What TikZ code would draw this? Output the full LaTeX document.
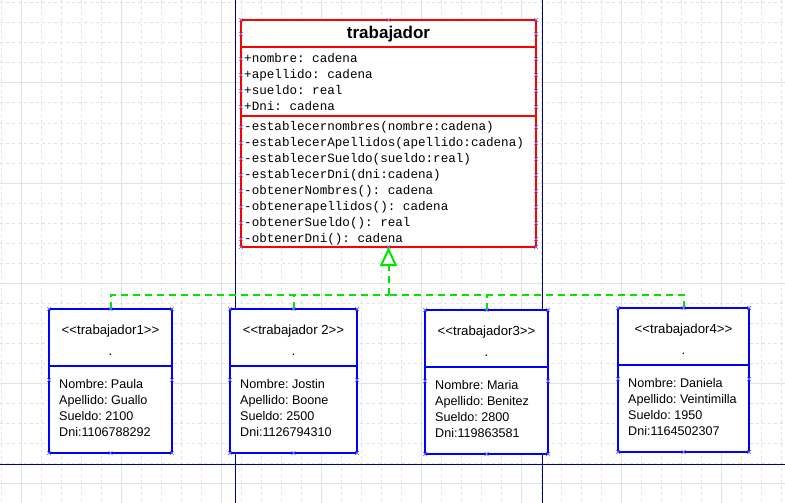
\documentclass[tikz,border=0pt]{standalone}
\usepackage{fontspec}
\setmainfont{Liberation Sans}
\newfontfamily\codefont{Liberation Mono}
\usetikzlibrary{arrows.meta}
\definecolor{gridgray}{RGB}{222,227,227}
\definecolor{pageblue}{RGB}{0,0,140}
\definecolor{umlgreen}{RGB}{0,230,0}
\definecolor{handleblue}{RGB}{115,115,235}
\frenchspacing

\begin{document}
\begin{tikzpicture}[x=1pt,y=-1pt,
  classbox/.style={draw=red,line width=2pt,fill=white,inner sep=0pt,outer sep=0pt},
  objbox/.style={draw=blue,line width=2pt,fill=white,inner sep=0pt,outer sep=0pt,minimum height=144pt},
  member/.style={anchor=west,inner sep=0pt,text height=9pt,text depth=2.5pt,font=\codefont\fontsize{12.6}{14}\selectfont},
  field/.style={anchor=west,inner sep=0pt,text height=9pt,text depth=2.5pt,font=\fontsize{12.6}{14}\selectfont},
  stereo/.style={inner sep=0pt,font=\fontsize{13.2}{15}\selectfont},
  minorgrid/.style={gridgray,line width=1pt,dash pattern=on 3pt off 3pt},
  majorgrid/.style={gridgray,line width=1pt},
  pageline/.style={pageblue,line width=1pt},
  inherit/.style={umlgreen,line width=2pt,dash pattern=on 7pt off 5pt},
  handle/.style={handleblue,line width=0.7pt}]

\fill[white] (0,0) rectangle (785,503);
\useasboundingbox (0,0) rectangle (785,503);

% grid
\foreach \gx in {1,21,...,781} \draw[minorgrid] (\gx,0) -- (\gx,503);
\foreach \gy in {3,23,...,503} \draw[minorgrid] (0,\gy) -- (785,\gy);
\foreach \gx in {21,121,...,721} \draw[majorgrid] (\gx,0) -- (\gx,503);
\foreach \gy in {83,183,...,483} \draw[majorgrid] (0,\gy) -- (785,\gy);

% page borders
\draw[pageline] (235,0) -- (235,503);
\draw[pageline] (542,0) -- (542,503);
\draw[pageline] (0,464) -- (785,464);

% class trabajador
\node[classbox,minimum width=295pt,minimum height=227pt] (trab) at (388.5,133.5) {};
\draw[red,line width=2pt] ([yshift=-27.5pt]trab.north west) -- ([yshift=-27.5pt]trab.north east);
\draw[red,line width=2pt] ([yshift=-96pt]trab.north west) -- ([yshift=-96pt]trab.north east);
\node[inner sep=0pt,font=\bfseries\fontsize{17}{20}\selectfont] (title) at (388.5,34) {trabajador};

\node[member] (a1) at (244,59) {+nombre: cadena};
\node[member] (a2) at (244,75) {+apellido: cadena};
\node[member] (a3) at (244,91) {+sueldo: real};
\node[member] (a4) at (244,107) {+Dni: cadena};

\node[member] (m1) at (244,127) {-establecernombres(nombre:cadena)};
\node[member] (m2) at (244,143) {-establecerApellidos(apellido:cadena)};
\node[member] (m3) at (244,159) {-establecerSueldo(sueldo:real)};
\node[member] (m4) at (244,175) {-establecerDni(dni:cadena)};
\node[member] (m5) at (244,191) {-obtenerNombres(): cadena};
\node[member] (m6) at (244,207) {-obtenerapellidos(): cadena};
\node[member] (m7) at (244,223) {-obtenerSueldo(): real};
\node[member] (m8) at (244,239) {-obtenerDni(): cadena};

% objects
\node[objbox,minimum width=123pt] (w1) at (110.5,381) {};
\node[objbox,minimum width=127pt] (w2) at (293.5,381) {};
\node[objbox,minimum width=123pt] (w3) at (486.5,382) {};
\node[objbox,minimum width=131pt] (w4) at (683.5,380) {};
\foreach \w in {w1,w2,w3,w4}
  \draw[blue,line width=2pt] ([yshift=-57pt]\w.north west) -- ([yshift=-57pt]\w.north east);

\node[stereo] (s1) at ([yshift=-22pt]w1.north) {<{}<trabajador1>{}>};
\node[stereo] (d1) at ([yshift=-46pt]w1.north) {.};
\node[field] (n1) at ([xshift=10pt,yshift=-76pt]w1.north west) {Nombre: Paula};
\node[field] (p1) at ([xshift=10pt,yshift=-92pt]w1.north west) {Apellido: Guallo};
\node[field] (q1) at ([xshift=10pt,yshift=-108pt]w1.north west) {Sueldo: 2100};
\node[field] (i1) at ([xshift=10pt,yshift=-124pt]w1.north west) {Dni:1106788292};

\node[stereo] (s2) at ([yshift=-22pt]w2.north) {<{}<trabajador 2>{}>};
\node[stereo] (d2) at ([yshift=-46pt]w2.north) {.};
\node[field] (n2) at ([xshift=10pt,yshift=-76pt]w2.north west) {Nombre: Jostin};
\node[field] (p2) at ([xshift=10pt,yshift=-92pt]w2.north west) {Apellido: Boone};
\node[field] (q2) at ([xshift=10pt,yshift=-108pt]w2.north west) {Sueldo: 2500};
\node[field] (i2) at ([xshift=10pt,yshift=-124pt]w2.north west) {Dni:1126794310};

\node[stereo] (s3) at ([yshift=-22pt]w3.north) {<{}<trabajador3>{}>};
\node[stereo] (d3) at ([yshift=-46pt]w3.north) {.};
\node[field] (n3) at ([xshift=10pt,yshift=-76pt]w3.north west) {Nombre: Maria};
\node[field] (p3) at ([xshift=10pt,yshift=-92pt]w3.north west) {Apellido: Benitez};
\node[field] (q3) at ([xshift=10pt,yshift=-108pt]w3.north west) {Sueldo: 2800};
\node[field] (i3) at ([xshift=10pt,yshift=-124pt]w3.north west) {Dni:119863581};

\node[stereo] (s4) at ([yshift=-22pt]w4.north) {<{}<trabajador4>{}>};
\node[stereo] (d4) at ([yshift=-46pt]w4.north) {.};
\node[field] (n4) at ([xshift=10pt,yshift=-76pt]w4.north west) {Nombre: Daniela};
\node[field] (p4) at ([xshift=10pt,yshift=-92pt]w4.north west) {Apellido: Veintimilla};
\node[field] (q4) at ([xshift=10pt,yshift=-108pt]w4.north west) {Sueldo: 1950};
\node[field] (i4) at ([xshift=10pt,yshift=-124pt]w4.north west) {Dni:1164502307};

% generalization
\coordinate (bus) at (388.5,295);
\draw[inherit,-{Triangle[open,length=19pt,width=17pt]}] (bus) -- (trab.south);
\draw[inherit] (w1.north) |- (bus);
\draw[inherit] (w4.north) |- (bus);
\draw[inherit] (w2.north) -- (w2.north |- bus);
\draw[inherit] (w3.north) -- (w3.north |- bus);

% selection handles
\foreach \a in {north west,north,north east,south west,south,south east}
  \draw[handle] (trab.\a) ++(-2,-2) -- ++(4,4) ++(-4,0) -- ++(4,-4);
\foreach \hy in {34,59,75,91,107,127,143,159,175,191,207,223,239} {
  \draw[handle] (241,\hy) ++(-2,-2) -- ++(4,4) ++(-4,0) -- ++(4,-4);
  \draw[handle] (536,\hy) ++(-2,-2) -- ++(4,4) ++(-4,0) -- ++(4,-4);
}
\foreach \w in {w1,w2,w3,w4} {
  \foreach \a in {north west,north,north east,south west,south,south east}
    \draw[handle] (\w.\a) ++(-2,-2) -- ++(4,4) ++(-4,0) -- ++(4,-4);
  \draw[handle] ([yshift=-71pt]\w.north west) ++(-2,-2) -- ++(4,4) ++(-4,0) -- ++(4,-4);
  \draw[handle] ([yshift=-71pt]\w.north east) ++(-2,-2) -- ++(4,4) ++(-4,0) -- ++(4,-4);
}
\end{tikzpicture}
\end{document}
